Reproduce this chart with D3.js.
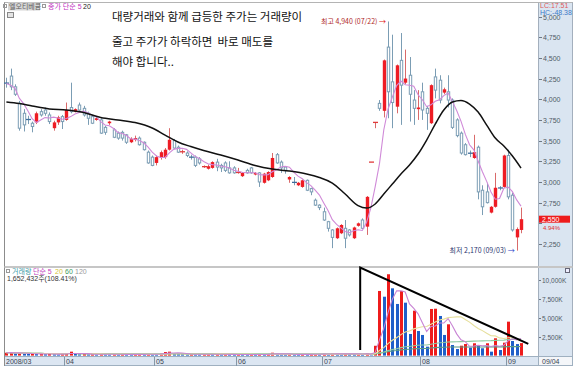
<!DOCTYPE html>
<html>
<head>
<meta charset="utf-8">
<script src="https://cdn.jsdelivr.net/npm/d3@7"></script>
<style>
  body { margin: 0; background: #fff; }
  svg { display: block; }
  text { font-family: "Liberation Sans", "Noto Sans CJK KR", sans-serif; }
  .kr { font-family: "Noto Sans CJK KR", sans-serif; }
</style>
</head>
<body>
<div id="chart"></div>
<script>
// canvas size
var svgWidth = 574;
var svgHeight = 370;

// daily candles, 2008/03/12 ~ 2008/09/04 (121 trading days)
var opens = [
  4200, 4280, 4150, 3950, 3830, 3760, 3710, 3720, 3850, 3870,
  3810, 3650, 3720, 3790, 3750, 3900, 3850, 3930, 3890, 3830,
  3790, 3750, 3750, 3660, 3710, 3630, 3590, 3600, 3570, 3480,
  3510, 3530, 3480, 3360, 3300, 3230, 3290, 3300, 3390, 3500,
  3420, 3360, 3350, 3305, 3300, 3280, 3180, 3160, 3170, 3240,
  3200, 3230, 3170, 3170, 3110, 3070, 3140, 3170, 3090, 3110,
  2990, 3020, 3060, 3330, 3240, 3180, 3030, 3000, 2960, 2940,
  3020, 2920, 2780, 2720, 2640, 2520, 2420, 2320, 2380, 2440,
  2420, 2320, 2470, 2540, 2460, 3240, 3720, 3950, 3860, 4630,
  4210, 3910, 4470, 4200, 4290, 3990, 3880, 4090, 3890, 3710,
  4270, 4230, 4080, 4090, 3990, 3750, 3590, 3450, 3350, 3290,
  3420, 2900, 2880, 2630, 2700, 2930, 2940, 3320, 2840, 2330,
  2420
];
var highs = [
  4260, 4370, 4180, 3980, 3880, 3800, 3730, 3850, 3880, 3900,
  3840, 3740, 3800, 3810, 3960, 4200, 3890, 3960, 3920, 3850,
  3810, 3790, 3770, 3680, 3740, 3650, 3610, 3620, 3580, 3540,
  3560, 3550, 3490, 3380, 3320, 3320, 3380, 3410, 3650, 3520,
  3440, 3390, 3370, 3330, 3320, 3300, 3200, 3210, 3250, 3280,
  3220, 3250, 3250, 3190, 3170, 3120, 3160, 3180, 3120, 3120,
  3110, 3130, 3350, 3350, 3260, 3190, 3070, 3060, 3000, 3030,
  3030, 2930, 2800, 2730, 2690, 2530, 2430, 2450, 2490, 2540,
  2430, 2460, 2510, 2560, 2830, 3240, 3720, 3990, 4480, 4940,
  4780, 4420, 4800, 4600, 4510, 4110, 4110, 4200, 3920, 4180,
  4370, 4290, 4140, 4290, 4010, 3770, 3610, 3470, 3380, 3570,
  3440, 2960, 2990, 2710, 3110, 2950, 3330, 3390, 2870, 2450,
  2690
];
var lows = [
  4140, 4110, 4040, 3620, 3610, 3700, 3600, 3700, 3790, 3800,
  3700, 3620, 3690, 3640, 3740, 3830, 3840, 3860, 3790, 3690,
  3700, 3740, 3580, 3570, 3690, 3530, 3510, 3500, 3460, 3470,
  3490, 3440, 3380, 3220, 3190, 3200, 3270, 3280, 3380, 3400,
  3350, 3340, 3300, 3270, 3180, 3210, 3170, 3150, 3160, 3130,
  3120, 3120, 3100, 3100, 3100, 3060, 3100, 3100, 3080, 2940,
  2980, 3010, 3050, 3220, 3110, 3100, 2990, 2960, 2950, 2930,
  2890, 2840, 2710, 2660, 2530, 2400, 2200, 2310, 2370, 2200,
  2340, 2310, 2460, 2430, 2360, 3240, 3650, 3860, 3780, 3770,
  3650, 3830, 3690, 4180, 3730, 3690, 3750, 3750, 3630, 3700,
  4010, 3950, 4060, 3900, 3640, 3540, 3330, 3320, 3300, 3280,
  2790, 2600, 2740, 2620, 2690, 2900, 2930, 2790, 2400, 2170,
  2380
];
var closes = [
  4190, 4150, 4060, 3650, 3690, 3750, 3670, 3830, 3810, 3830,
  3730, 3720, 3780, 3730, 3870, 3850, 3880, 3870, 3810, 3770,
  3710, 3770, 3590, 3600, 3730, 3540, 3530, 3530, 3480, 3520,
  3530, 3450, 3390, 3230, 3200, 3300, 3360, 3390, 3510, 3410,
  3360, 3370, 3320, 3295, 3200, 3230, 3190, 3190, 3240, 3180,
  3170, 3140, 3110, 3110, 3120, 3110, 3110, 3110, 3110, 3000,
  3100, 3120, 3290, 3230, 3170, 3140, 3060, 2990, 2990, 3020,
  2900, 2880, 2720, 2690, 2540, 2440, 2330, 2440, 2480, 2320,
  2360, 2450, 2500, 2440, 2820, 3240, 3720, 3890, 4470, 4090,
  3960, 4410, 4170, 4250, 4060, 3890, 3900, 3870, 3830, 4170,
  4110, 3990, 4120, 3990, 3660, 3560, 3350, 3330, 3345, 3360,
  2880, 2700, 2750, 2700, 2930, 2925, 3320, 2820, 2420, 2430,
  2550
];
// volume, thousand shares
var volumes = [
  380, 420, 300, 350, 260, 220, 240, 200, 230, 180,
  210, 190, 170, 200, 260, 520, 240, 180, 210, 170,
  190, 160, 200, 170, 150, 180, 160, 190, 150, 140,
  170, 180, 150, 230, 200, 170, 260, 470, 520, 300,
  220, 190, 160, 200, 170, 150, 180, 210, 160, 190,
  140, 170, 150, 130, 160, 140, 120, 150, 130, 180,
  160, 200, 380, 220, 170, 150, 190, 160, 140, 170,
  150, 180, 210, 190, 230, 200, 260, 240, 210, 250,
  220, 200, 230, 190, 330, 60, 1300, 8550, 7790, 10760,
  8900, 6830, 8550, 7000, 2860, 5940, 3250, 2730, 1180, 6170,
  6200, 5240, 2730, 4140, 1400, 870, 1310, 1530, 1050, 1630,
  1310, 970, 1630, 520, 2290, 740, 1710, 4490, 1930, 1524,
  1652
];

// 20일 이동평균 (day index, price)
var ma20Index = [0, 3, 6, 10, 14, 18, 22, 26, 30, 34, 37, 40, 43, 46, 50, 54, 58, 62, 66, 70,
  73, 76, 79, 82, 84, 86, 88, 90, 92, 94, 96, 98, 100, 102, 104, 106, 108, 110, 112, 114,
  116, 118, 120];
var ma20Value = [3966, 3948, 3918, 3882, 3870, 3839, 3779, 3749, 3718, 3652, 3567, 3483, 3428, 3380, 3326, 3265, 3199, 3156, 3132, 3096,
  3053, 2987, 2854, 2715, 2685, 2734, 2854, 2975, 3096, 3205, 3338, 3507, 3700, 3870, 3966, 3984, 3942, 3845, 3688, 3531,
  3434, 3313, 3168];

// month labels on the time axis (first trading day index)
var monthLabels = ["2008/03", "04", "05", "06", "07", "08", "09"];
var monthStart = [0, 14, 35, 54, 74, 97, 117];

var priceTicks = [5000, 4750, 4500, 4250, 4000, 3750, 3500, 3250, 3000, 2750, 2500, 2250];
var volumeTicks = [10000, 7500, 5000, 2500];

// volume moving averages
var volMaPeriods = [5, 20, 60, 120];
var volMaColors = ["#c884d4", "#e6df9c", "#8fcaa2", "#5a9c86"];

var svg = d3.select("#chart")
  .append("svg")
  .attr("width", svgWidth)
  .attr("height", svgHeight);

// scales
var xScale = d3.scaleLinear().domain([0, 120]).range([6.4, 521]);
var yScale = d3.scaleLinear().domain([2000, 5000]).range([264.7, 16.5]);
var vScale = d3.scaleLinear().domain([0, 10000]).range([355.6, 280]);

// moving average helper
function movingAvg(values, n) {
  return values.map(function(v, i) {
    return d3.mean(values.slice(Math.max(0, i - n + 1), i + 1));
  });
}

var lastClose = closes[closes.length - 1];
var lastY = yScale(lastClose);

// ---- frame / panels ----
svg.append("rect").attr("x", 538.5).attr("y", 2.5).attr("width", 34).attr("height", 354)
  .attr("fill", "#dae5f1").attr("stroke", "#a3afbd");
svg.append("rect").attr("x", 4.5).attr("y", 356.5).attr("width", 534).attr("height", 9)
  .attr("fill", "#dce6f2").attr("stroke", "#9fb0c0");
svg.append("rect").attr("x", 538.5).attr("y", 356.5).attr("width", 34).attr("height", 9)
  .attr("fill", "#f4f6f9").attr("stroke", "#9fb0c0");
svg.append("line").attr("x1", 4.5).attr("x2", 4.5).attr("y1", 2).attr("y2", 366)
  .attr("stroke", "#8c8c8c");
svg.append("line").attr("x1", 4.5).attr("x2", 572.5).attr("y1", 2.5).attr("y2", 2.5)
  .attr("stroke", "#b4b4b4");
svg.append("line").attr("x1", 4.5).attr("x2", 572.5).attr("y1", 267).attr("y2", 267)
  .attr("stroke", "#c6c6c6").attr("stroke-width", 2);

// ---- price axis (right) ----
var priceAxis = svg.append("g");
priceTicks.forEach(function(p) {
  var y = Math.round(yScale(p)) + 0.5;
  priceAxis.append("line").attr("x1", 539).attr("x2", 542).attr("y1", y).attr("y2", y)
    .attr("stroke", "#6d7885");
  // label hidden behind the current price tag
  if (Math.abs(y - lastY) < 12) return;
  priceAxis.append("text").attr("x", 543).attr("y", y + 2.5)
    .style("font-size", "7px").style("fill", "#505a66").text(d3.format(",")(p));
});
svg.append("text").attr("x", 540).attr("y", 8).style("font-size", "7px").style("fill", "#e05a5a").text("LC:17.51");
svg.append("text").attr("x", 540).attr("y", 14.5).style("font-size", "7px").style("fill", "#3a78c8").text("HC:-48.38");

// current price tag
svg.append("rect").attr("x", 539).attr("y", lastY - 3.5).attr("width", 31).attr("height", 7).attr("fill", "#ee1c1c");
svg.append("text").attr("x", 542).attr("y", lastY + 2.5).style("font-size", "7px").style("fill", "#fff")
  .text(d3.format(",")(lastClose));
svg.append("text").attr("x", 543).attr("y", lastY + 10.5).style("font-size", "6px").style("fill", "#e03030")
  .text(d3.format(".2f")((lastClose / closes[closes.length - 2] - 1) * 100) + "%");

// ---- volume axis (right) ----
volumeTicks.forEach(function(v) {
  var y = Math.round(vScale(v)) + 0.5;
  svg.append("line").attr("x1", 539).attr("x2", 541).attr("y1", y).attr("y2", y).attr("stroke", "#6d7885");
  svg.append("text").attr("x", 542).attr("y", y + 2.5)
    .style("font-size", "6.5px").style("fill", "#505a66").text(d3.format(",")(v) + "K");
});
svg.append("rect").attr("x", 565.5).attr("y", 268.5).attr("width", 4).attr("height", 4)
  .attr("fill", "#eef").attr("stroke", "#667");

// ---- time axis ----
monthStart.forEach(function(s, k) {
  var bx = k === 0 ? 4.5 : Math.round(xScale(s - 0.5)) + 0.5;
  if (k > 0) {
    svg.append("line").attr("x1", bx).attr("x2", bx).attr("y1", 357).attr("y2", 366).attr("stroke", "#8597a8");
  }
  svg.append("text").attr("x", bx + 1.5).attr("y", 364)
    .style("font-size", "7px").style("fill", "#3a4450").text(monthLabels[k]);
});
svg.append("text").attr("x", 542).attr("y", 364).style("font-size", "7px").style("fill", "#3a4450").text("09/04");

// ---- candles ----
var candleGroup = svg.append("g");
d3.range(closes.length).forEach(function(i) {
  var cx = Math.round(xScale(i)) + 0.5;
  var up = closes[i] >= opens[i];
  var top = yScale(Math.max(opens[i], closes[i]));
  var bot = yScale(Math.min(opens[i], closes[i]));
  var lineColor = up ? "#d96a6a" : "#7b9db4";

  candleGroup.append("line")
    .attr("x1", cx).attr("x2", cx)
    .attr("y1", yScale(highs[i])).attr("y2", yScale(lows[i]))
    .attr("stroke", lineColor);

  if (bot - top < 1.2) {
    candleGroup.append("line")
      .attr("x1", cx - 2.5).attr("x2", cx + 2.5)
      .attr("y1", (top + bot) / 2).attr("y2", (top + bot) / 2)
      .attr("stroke", up ? "#e03a3a" : "#3d6d9c").attr("stroke-width", 1.3);
  } else if (up) {
    candleGroup.append("rect")
      .attr("x", cx - 1.7).attr("y", top)
      .attr("width", 3.4).attr("height", bot - top)
      .attr("fill", "#ee1c24");
  } else {
    candleGroup.append("rect")
      .attr("x", cx - 1.2).attr("y", top)
      .attr("width", 2.4).attr("height", bot - top)
      .attr("fill", "#fff").attr("stroke", "#7b9db4");
  }
});

// price moving averages
var ma5 = movingAvg(closes, 5);
var priceLine = d3.line()
  .x(function(d) { return xScale(d[0]); })
  .y(function(d) { return yScale(d[1]); });

svg.append("path")
  .datum(ma5.map(function(v, i) { return [i, v]; }))
  .attr("fill", "none").attr("stroke", "#d08ad8").attr("stroke-width", 1.1)
  .attr("d", priceLine);

svg.append("path")
  .datum(ma20Index.map(function(i, k) { return [i, ma20Value[k]]; }))
  .attr("fill", "none").attr("stroke", "#111").attr("stroke-width", 1.5)
  .attr("d", priceLine.curve(d3.curveMonotoneX));

// ---- volume bars ----
var volGroup = svg.append("g");
volumes.forEach(function(v, i) {
  var cx = Math.round(xScale(i)) + 0.5;
  var rising = i === 0 || v >= volumes[i - 1];
  volGroup.append("rect")
    .attr("x", cx - 1.5).attr("y", vScale(v))
    .attr("width", 3).attr("height", vScale(0) - vScale(v))
    .attr("fill", rising ? "#ee1c1c" : "#1f5fc9");
});

var volLine = d3.line()
  .x(function(d, i) { return xScale(i); })
  .y(function(d) { return vScale(d); });
volMaPeriods.slice().reverse().forEach(function(n, k) {
  var idx = volMaPeriods.length - 1 - k;
  svg.append("path")
    .datum(movingAvg(volumes, n))
    .attr("fill", "none").attr("stroke", volMaColors[idx]).attr("stroke-width", 1.1)
    .attr("d", volLine);
});

// ---- annotation: volume triangle ----
var triangle = [[82.5, 740], [82.5, 11650], [121.7, 1550]];
svg.append("path")
  .datum(triangle)
  .attr("fill", "none").attr("stroke", "#000").attr("stroke-width", 2)
  .attr("d", d3.line().x(function(d) { return xScale(d[0]); }).y(function(d) { return vScale(d[1]); }));

// ---- high / low markers ----
var hiIdx = d3.maxIndex(highs);
var loIdx = d3.minIndex(lows);
var hiText = svg.append("text")
  .attr("class", "kr")
  .attr("x", xScale(hiIdx) - 2).attr("y", yScale(highs[hiIdx]) + 2.5)
  .attr("text-anchor", "end")
  .style("font-size", "7px").style("fill", "#b02a2a");
hiText.append("tspan").text("최고 " + d3.format(",")(highs[hiIdx]) + " (07/22) ");
hiText.append("tspan").style("fill", "#e01010").text("→");

var loText = svg.append("text")
  .attr("class", "kr")
  .attr("x", xScale(loIdx) - 2).attr("y", yScale(lows[loIdx]) + 2)
  .attr("text-anchor", "end")
  .style("font-size", "7px").style("fill", "#2c3670");
loText.append("tspan").text("최저 " + d3.format(",")(lows[loIdx]) + " (09/03) ");
loText.append("tspan").style("fill", "#1f3fc8").text("→");

// ---- legends ----
var legend = svg.append("g").attr("class", "kr").style("font-size", "7px");
legend.append("rect").attr("x", 3.5).attr("y", 4.5).attr("width", 3).attr("height", 3).attr("fill", "none").attr("stroke", "#999");
legend.append("rect").attr("x", 8).attr("y", 2.5).attr("width", 32).attr("height", 8).attr("fill", "#d6d6d6");
legend.append("text").attr("x", 9).attr("y", 9).style("fill", "#606060").text("엘오티베큠");
legend.append("rect").attr("x", 42.5).attr("y", 4.5).attr("width", 3).attr("height", 3).attr("fill", "none").attr("stroke", "#999");
legend.append("text").attr("x", 48).attr("y", 9).style("fill", "#c030c0").text("종가 단순 5");
legend.append("text").attr("x", 83).attr("y", 9).style("fill", "#222").text("20");
legend.append("rect").attr("x", 7.5).attr("y", 12.5).attr("width", 6).attr("height", 5).attr("fill", "#e4e4e4").attr("stroke", "#888");

var vLegend = svg.append("g").attr("class", "kr").style("font-size", "7px");
vLegend.append("rect").attr("x", 6.5).attr("y", 269.5).attr("width", 3).attr("height", 3).attr("fill", "none").attr("stroke", "#999");
vLegend.append("text").attr("x", 12).attr("y", 273.5).style("fill", "#3a9aa8").text("거래량");
vLegend.append("text").attr("x", 33).attr("y", 273.5).style("fill", "#c040c0").text("단순 5");
vLegend.append("text").attr("x", 55).attr("y", 273.5).style("fill", "#d4c238").text("20");
vLegend.append("text").attr("x", 65).attr("y", 273.5).style("fill", "#3c9a5a").text("60");
vLegend.append("text").attr("x", 75).attr("y", 273.5).style("fill", "#9a9a9a").text("120");
vLegend.append("text").attr("x", 7).attr("y", 280.5).style("fill", "#333")
  .text("1,652,432주(108.41%)");

// ---- comment text ----
var noteLines = ["대량거래와 함께 급등한 주가는 거래량이", "줄고 주가가 하락하면  바로 매도를", "해야 합니다.."];
var noteY = [21, 46, 66];
svg.append("g").selectAll("text")
  .data(noteLines)
  .enter()
  .append("text")
  .attr("class", "kr")
  .attr("x", 112)
  .attr("y", function(d, i) { return noteY[i]; })
  .style("font-size", "11.5px")
  .style("fill", "#111")
  .style("white-space", "pre")
  .attr("xml:space", "preserve")
  .text(function(d) { return d; });
</script>
</body>
</html>
